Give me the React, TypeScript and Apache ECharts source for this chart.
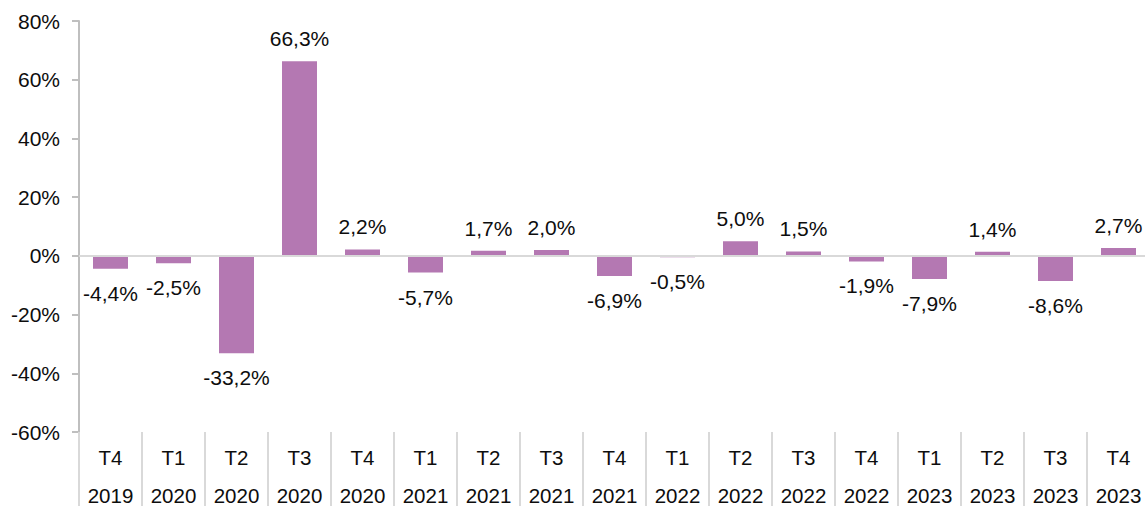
import React, { useEffect, useRef } from "react";
import * as echarts from "echarts";

const quarters = ["T4", "T1", "T2", "T3", "T4", "T1", "T2", "T3", "T4", "T1", "T2", "T3", "T4", "T1", "T2", "T3", "T4"];
const years = ["2019", "2020", "2020", "2020", "2020", "2021", "2021", "2021", "2021", "2022", "2022", "2022", "2022", "2023", "2023", "2023", "2023"];
const values = [-4.4, -2.5, -33.2, 66.3, 2.2, -5.7, 1.7, 2.0, -6.9, -0.5, 5.0, 1.5, -1.9, -7.9, 1.4, -8.6, 2.7];
const yTicks = [-60, -40, -20, 0, 20, 40, 60, 80];

const FONT = "'Liberation Sans', Arial, sans-serif";

export default function App() {
  const ref = useRef<HTMLDivElement>(null);
  useEffect(() => {
    if (!ref.current) return;
    const chart = echarts.init(ref.current, null, { renderer: "svg" });
    const categories = quarters.map((q, i) => q + "\n" + years[i]);
    chart.setOption({
      animation: false,
      grid: { left: 79, top: 21, width: 1071, height: 411, containLabel: false, outerBoundsMode: "none" },
      xAxis: {
        type: "category",
        data: categories,
        position: "bottom",
        boundaryGap: true,
        axisLine: { show: false, onZero: false },
        axisTick: { show: true, interval: 0, length: 76, lineStyle: { color: "#d9d9d9", width: 2 } },
        axisLabel: { interval: 0, margin: 6, fontSize: 20.5, lineHeight: 38, color: "#0d0d0d", fontFamily: FONT },
      },
      yAxis: {
        type: "value",
        min: yTicks[0],
        max: yTicks[yTicks.length - 1],
        interval: 20,
        splitLine: { show: false },
        axisLine: { show: true, lineStyle: { color: "#bfbfbf", width: 2 } },
        axisTick: { show: true, length: 7, lineStyle: { color: "#bfbfbf", width: 2 } },
        axisLabel: { margin: 19, fontSize: 21, color: "#0d0d0d", fontFamily: FONT, formatter: (v: number) => v + "%" },
      },
      series: [
        {
          type: "bar",
          barWidth: 35,
          itemStyle: { color: "#b478b2" },
          data: values.map((v) => ({
            value: v,
            label: { position: v >= 0 ? "top" : "bottom", distance: v >= 0 ? 12 : 14 },
          })),
          label: {
            show: true,
            fontSize: 21,
            color: "#0d0d0d",
            fontFamily: FONT,
            formatter: (p: any) => p.value.toFixed(1).replace(".", ",") + "%",
          },
          markLine: {
            silent: true,
            symbol: "none",
            label: { show: false },
            lineStyle: { color: "#d9d9d9", width: 2, type: "solid" },
            data: [{ yAxis: 0 }],
          },
        },
      ],
    });
    return () => chart.dispose();
  }, []);
  return <div ref={ref} style={{ position: "absolute", left: 0, top: 0, width: 1145, height: 506 }} />;
}
